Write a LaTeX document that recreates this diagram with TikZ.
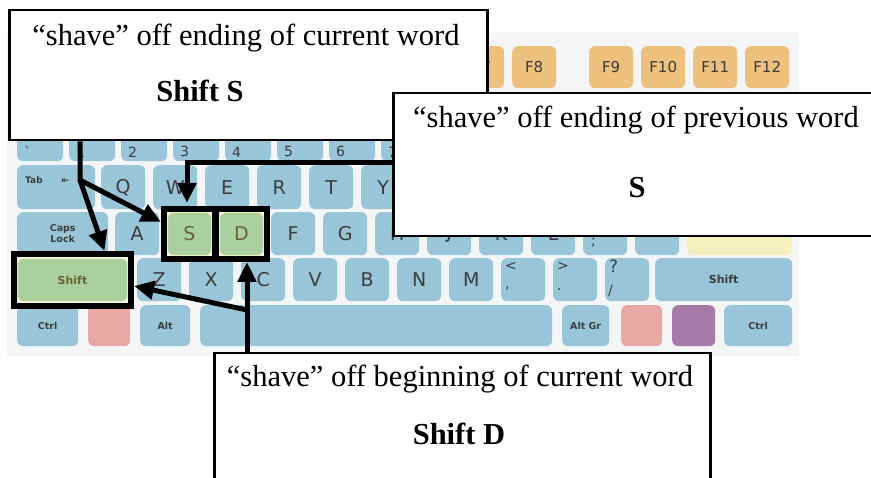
\documentclass[tikz,border=0pt]{standalone}
\usepackage{fontspec}
\setmainfont{Liberation Serif}
\newfontfamily\keyfont{DejaVu Sans}
\usepackage{tikz}
\usetikzlibrary{arrows.meta,positioning,fit}
\usepackage{xcolor}
\definecolor{kb_bg}{HTML}{F3F5F7}
\definecolor{kb_blue}{HTML}{98C6D8}
\definecolor{kb_fkey}{HTML}{EEC07E}
\definecolor{kb_green}{HTML}{AAD0A0}
\definecolor{kb_rim}{HTML}{EEF0B8}
\definecolor{kb_pink}{HTML}{E8A8A6}
\definecolor{kb_purple}{HTML}{A87AA8}
\definecolor{kb_yel}{HTML}{F2F0BE}
\definecolor{kb_txt}{HTML}{3C3C3C}
\definecolor{kb_olive}{HTML}{66652F}
\tikzset{
kb_key/.style = {rectangle, rounded corners=6pt, fill=kb_blue, anchor=north west, inner sep=0pt,
minimum width=44pt, minimum height=43pt, text=kb_txt, font=\keyfont\fontsize{19}{19}\selectfont},% plain key
kb_plain/.style = {},% no change
kb_sel/.style = {fill=kb_green, draw=kb_rim, line width=1pt, text=kb_olive},% key in use
kb_fn/.style = {kb_key, fill=kb_fkey, minimum height=42pt, font=\keyfont\fontsize{15}{15}\selectfont},% F keys
kb_mod/.style = {kb_key, align=center, font=\keyfont\bfseries\fontsize{9.5}{11}\selectfont},% Ctrl, Alt, Shift...
kb_lbl/.style = {inner sep=0pt, anchor=south west, text=kb_txt, font=\keyfont\fontsize{14}{14}\selectfont},% small corner label
kb_hl/.style = {draw=black, line width=6pt, inner xsep=3pt, inner ysep=3pt},% thick black frame
note_box/.style = {draw=black, line width=2.5pt, fill=white, anchor=north west, inner sep=0pt},% text box
note_txt/.style = {anchor=base, inner sep=0pt, font=\fontsize{30.5}{31}\selectfont},
note_key/.style = {note_txt, font=\bfseries\fontsize{30.5}{31}\selectfont},
arw/.style = {line width=5pt, -{Triangle[length=20pt,width=18pt]}}
}

\begin{document}
\begin{tikzpicture}[x=1pt, y=-1pt]
  \useasboundingbox (0,0) rectangle (871,478);
  \fill[kb_bg] (7,32) rectangle (799,356);

  % function row
  \foreach \lab/\xx in {F7/460,F8/512,F9/589,F10/641,F11/693,F12/745}
    \node[kb_fn] (\lab) at (\xx,46) {\lab};

  % number row (the rest is under the boxes)
  \foreach \lab [count=\i from 0] in {\textasciigrave,1,2,3,4,5,6,7}
    \node[kb_key, minimum width=46pt, label={[kb_lbl, xshift=7pt, yshift=4pt]south west:\lab}] (n\i) at (17+52*\i,118) {};

  % Q row
  \node[kb_key, minimum width=78pt, minimum height=44pt,
    label={[kb_lbl, anchor=north west, xshift=8pt, yshift=-11pt, font=\keyfont\bfseries\fontsize{9}{9}\selectfont]north west:Tab\hspace{19pt}⇤}] (tab) at (17,165) {};
  \foreach \lab [count=\i from 0] in {Q,W,E,R,T,Y}
    \node[kb_key, minimum height=44pt] (q\i) at (101+52*\i,165) {\lab};

  % A row
  \node[kb_mod, minimum width=91pt] (caps) at (17,212) {Caps\\Lock};
  \foreach \lab/\sty [count=\i from 0] in {A/kb_plain,S/kb_sel,D/kb_sel,F/kb_plain,G/kb_plain,H/kb_plain,J/kb_plain,K/kb_plain,L/kb_plain}
    \node[kb_key, \sty] (a\i) at (115+52*\i,212) {\lab};
  \node[kb_key, label={[kb_lbl, xshift=8pt, yshift=8pt]south west:;}] (semi) at (583,212) {};
  \node[kb_key, label={[kb_lbl, anchor=north west, xshift=8pt, yshift=-8pt]north west:\textquotesingle}] (quote) at (635,212) {};
  \node[kb_key, fill=kb_yel, minimum width=105pt] (enter) at (687,212) {};

  % Z row
  \node[kb_mod, kb_sel, minimum width=110pt, font=\keyfont\bfseries\fontsize{11}{11}\selectfont] (lshift) at (17,258) {Shift};
  \foreach \lab [count=\i from 0] in {Z,X,C,V,B,N,M}
    \node[kb_key] (z\i) at (137+52*\i,258) {\lab};
  \node[kb_key, label={[kb_lbl, anchor=north west, xshift=4pt, yshift=-4pt]north west:<},
    label={[kb_lbl, xshift=4pt, yshift=11pt]south west:{,}}] (lt) at (501,258) {};
  \node[kb_key, label={[kb_lbl, anchor=north west, xshift=4pt, yshift=-4pt]north west:>},
    label={[kb_lbl, xshift=4pt, yshift=11pt]south west:.}] (gt) at (553,258) {};
  \node[kb_key, label={[kb_lbl, anchor=north west, xshift=4pt, yshift=-2pt, font=\keyfont\fontsize{17}{17}\selectfont]north west:?},
    label={[kb_lbl, xshift=3pt, yshift=4pt]south west:/}] (qm) at (605,258) {};
  \node[kb_mod, minimum width=137pt, font=\keyfont\bfseries\fontsize{11}{11}\selectfont] (rshift) at (655,258) {Shift};

  % bottom row
  \node[kb_mod, minimum width=61pt, minimum height=41pt] (lctrl) at (17,305) {Ctrl};
  \node[kb_key, fill=kb_pink, minimum width=42pt, minimum height=41pt] (lwin) at (88,305) {};
  \node[kb_mod, minimum width=50pt, minimum height=41pt] (lalt) at (140,305) {Alt};
  \node[kb_key, minimum width=352pt, minimum height=41pt] (space) at (200,305) {};
  \node[kb_mod, minimum width=47pt, minimum height=41pt] (altgr) at (562,305) {Alt Gr};
  \node[kb_key, fill=kb_pink, minimum width=41pt, minimum height=41pt] (rwin) at (621,305) {};
  \node[kb_key, fill=kb_purple, minimum width=43pt, minimum height=41pt] (menu) at (672,305) {};
  \node[kb_mod, minimum width=68pt, minimum height=41pt] (rctrl) at (724,305) {Ctrl};

  % frames round the keys
  \node[kb_hl, fit=(a1)] (hlS) {};
  \node[kb_hl, fit=(a2)] (hlD) {};
  \node[kb_hl, fit=(lshift), inner ysep=4pt] (hlShift) {};

  % text boxes
  \node[note_box, minimum width=478pt, minimum height=130pt] (b_cur) at (8,9) {};
  \node[note_txt] (t_cur) at (246,46) {``shave'' off ending of current word};
  \node[note_key] (k_cur) at (200,102) {Shift S};

  \node[note_box, minimum width=488pt, minimum height=143pt] (b_prev) at (392,92) {};
  \node[note_txt] (t_prev) at (636,128) {``shave'' off ending of previous word};
  \node[note_key] (k_prev) at (637,198) {S};

  \node[note_box, minimum width=496pt, minimum height=140pt] (b_beg) at (213,352) {};
  \node[note_txt] (t_beg) at (460,387) {``shave'' off beginning of current word};
  \node[note_key] (k_beg) at (459,445) {Shift D};

  % arrows
  \coordinate (sp_cur) at (80,180);
  \coordinate (sp_prev) at (187,163);
  \coordinate (sp_beg) at (247,310);
  \draw[arw] (b_cur.south -| sp_cur) -- (sp_cur) -- ([yshift=12pt]hlS.west);
  \draw[arw] (sp_cur) -- ([xshift=32pt]hlShift.north);
  \draw[arw, shorten >=3pt] (b_prev.west |- sp_prev) -- (sp_prev) -- (sp_prev |- hlS.north);
  \draw[arw] (b_beg.north -| sp_beg) -- (sp_beg) -- (sp_beg |- hlD.south);
  \draw[arw] (sp_beg) -- ([yshift=-6pt]hlShift.east);
\end{tikzpicture}
\end{document}
